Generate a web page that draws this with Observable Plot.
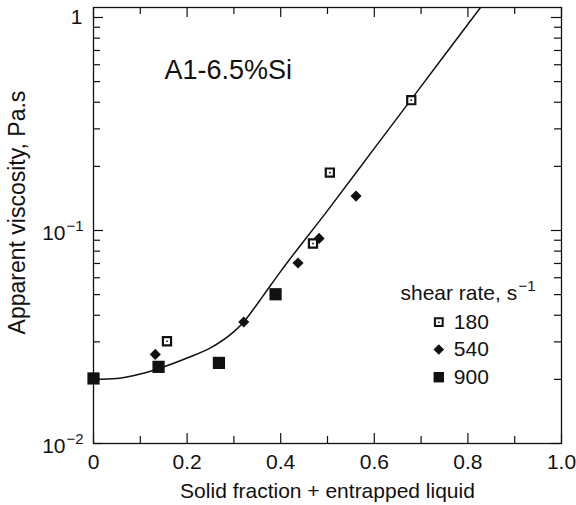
<!DOCTYPE html>
<html>
<head>
<meta charset="utf-8">
<script src="https://cdn.jsdelivr.net/npm/d3@7"></script>
<script src="https://cdn.jsdelivr.net/npm/@observablehq/plot@0.6"></script>
<style>
  html, body { margin: 0; padding: 0; background: #fff; }
  #chart svg { display: block; }
</style>
</head>
<body>
<div id="chart"></div>
<script>
// ---- data ----
const series = ["180", "540", "900"];

const s180X = [0.157, 0.469, 0.505, 0.679];
const s180Y = [0.0302, 0.0869, 0.187, 0.409];

const s540X = [0.132, 0.321, 0.437, 0.482, 0.561];
const s540Y = [0.0262, 0.0372, 0.0704, 0.0918, 0.145];

const s900X = [0.0, 0.139, 0.268, 0.389];
const s900Y = [0.0202, 0.0229, 0.0239, 0.0502];

// fitted curve drawn in the figure
const curveX = [0, 0.05, 0.1, 0.14, 0.2, 0.25, 0.3, 0.32, 0.34, 0.36, 0.4, 0.5, 0.6, 0.7, 0.8, 0.85];
const curveY = [0.0200, 0.0202, 0.0212, 0.0225, 0.0252, 0.0281, 0.0335, 0.0370, 0.0422, 0.0485, 0.0643, 0.124, 0.243, 0.475, 0.93, 1.30];

// axes
const xDomain = [0, 1];
const yDomain = [0.01, 1.114];
const xMajorTicks = [0, 0.2, 0.4, 0.6, 0.8, 1.0];
const xMinorTicks = [0.1, 0.3, 0.5, 0.7, 0.9];
const xTickLabels = ["0", "0.2", "0.4", "0.6", "0.8", "1.0"];
const yMajorTicks = [0.01, 0.1, 1];
const yMinorTicks = [0.02, 0.03, 0.04, 0.05, 0.06, 0.07, 0.08, 0.09, 0.2, 0.3, 0.4, 0.5, 0.6, 0.7, 0.8, 0.9];
const yTickBase = ["10", "10", "1"];
const yTickExp = ["\u22122", "\u22121", ""];

const xTitle = "Solid fraction + entrapped liquid";
const yTitle = "Apparent viscosity, Pa.s";
const annotation = "A1-6.5%Si";
const legendTitle = "shear rate, s";
const legendTitleExp = "\u22121";

// ---- build tables ----
const zip = (xs, ys) => xs.map((x, i) => ({x, y: ys[i]}));
const d180 = zip(s180X, s180Y);
const d540 = zip(s540X, s540Y);
const d900 = zip(s900X, s900Y);
const curve = zip(curveX, curveY);
const yLabels = yMajorTicks.map((v, i) => ({v, base: yTickBase[i], exp: yTickExp[i]}));
const yLabelsExp = yLabels.filter(d => d.exp);
const yLabelsPlain = yLabels.filter(d => !d.exp);

const font = "'Liberation Sans', Arial, Helvetica, sans-serif";
const FS = 21;
const SUP = 15;
const black = "#111";

// legend marks
const legendRowDy = [314.7, 342, 369.7];
const legendSymDx = 345.3, legendTextDx = 360.3;
const legendMarks = [];
series.forEach((s, i) => {
  const dy = legendRowDy[i];
  if (s === "180") {
    legendMarks.push(Plot.dot([s], {frameAnchor: "top-left", dx: legendSymDx, dy, symbol: "square", r: 4.4, stroke: black, strokeWidth: 2, fill: "white"}));
    legendMarks.push(Plot.dot([s], {frameAnchor: "top-left", dx: legendSymDx, dy, symbol: "square", r: 0.9, fill: black}));
  } else if (s === "540") {
    legendMarks.push(Plot.dot([s], {frameAnchor: "top-left", dx: legendSymDx, dy, symbol: "diamond2", r: 4.8, fill: black}));
  } else {
    legendMarks.push(Plot.dot([s], {frameAnchor: "top-left", dx: legendSymDx, dy, symbol: "square", r: 5.9, fill: black}));
  }
  legendMarks.push(Plot.text([s], {frameAnchor: "top-left", dx: legendTextDx, dy, text: d => d, textAnchor: "start", lineAnchor: "middle", fontSize: FS, fill: black}));
});

const chart = Plot.plot({
  width: 576,
  height: 505,
  marginLeft: 93,
  marginRight: 15,
  marginTop: 7,
  marginBottom: 62,
  style: {fontFamily: font, background: "white", color: black},
  x: {domain: xDomain, axis: null},
  y: {type: "log", domain: yDomain, axis: null},
  marks: [
    // x tick labels
    Plot.axisX({ticks: xMajorTicks, tickSize: 0, tickPadding: 11, tickFormat: d => xTickLabels[xMajorTicks.indexOf(d)], fontSize: FS, label: null}),
    // y tick labels (base + superscript exponent)
    Plot.text(yLabelsPlain, {x: xDomain[0], y: "v", text: "base", textAnchor: "end", lineAnchor: "middle", dx: -11, fontSize: FS, fill: black}),
    Plot.text(yLabelsExp, {x: xDomain[0], y: "v", text: "base", textAnchor: "end", lineAnchor: "middle", dx: -28, dy: 3, fontSize: FS, fill: black}),
    Plot.text(yLabelsExp, {x: xDomain[0], y: "v", text: "exp", textAnchor: "end", lineAnchor: "middle", dx: -10, dy: -4, fontSize: SUP, fill: black}),
    // inward ticks: bottom & top
    Plot.ruleX(xMajorTicks, {x: d => d, y1: yDomain[0], y2: yDomain[0], insetBottom: 10, stroke: black, strokeWidth: 1.2}),
    Plot.ruleX(xMinorTicks, {x: d => d, y1: yDomain[0], y2: yDomain[0], insetBottom: 7, stroke: black, strokeWidth: 1.2}),
    Plot.ruleX(xMajorTicks, {x: d => d, y1: yDomain[1], y2: yDomain[1], insetBottom: -10, stroke: black, strokeWidth: 1.2}),
    Plot.ruleX(xMinorTicks, {x: d => d, y1: yDomain[1], y2: yDomain[1], insetBottom: -7, stroke: black, strokeWidth: 1.2}),
    // inward ticks: left & right
    Plot.ruleY(yMajorTicks, {y: d => d, x1: xDomain[0], x2: xDomain[0], insetRight: -10, stroke: black, strokeWidth: 1.2}),
    Plot.ruleY(yMinorTicks, {y: d => d, x1: xDomain[0], x2: xDomain[0], insetRight: -7, stroke: black, strokeWidth: 1.2}),
    Plot.ruleY(yMajorTicks, {y: d => d, x1: xDomain[1], x2: xDomain[1], insetRight: 10, stroke: black, strokeWidth: 1.2}),
    Plot.ruleY(yMinorTicks, {y: d => d, x1: xDomain[1], x2: xDomain[1], insetRight: 7, stroke: black, strokeWidth: 1.2}),
    Plot.frame({stroke: black, strokeWidth: 1.3}),
    // axis titles
    Plot.text([xTitle], {frameAnchor: "bottom", dy: 48, text: d => d, fontSize: FS, fill: black, textAnchor: "middle", lineAnchor: "middle"}),
    Plot.text([yTitle], {frameAnchor: "left", dx: -76, dy: -13, rotate: -90, text: d => d, fontSize: 23, fill: black, textAnchor: "middle", lineAnchor: "middle"}),
    // annotation
    Plot.text([annotation], {frameAnchor: "top-left", dx: 71, dy: 63, text: d => d, fontSize: 27, textAnchor: "start", lineAnchor: "middle", fill: black}),
    // fitted curve
    Plot.line(curve, {x: "x", y: "y", curve: "monotone-x", stroke: black, strokeWidth: 1.5, clip: true}),
    // data
    Plot.dot(d900, {x: "x", y: "y", symbol: "square", r: 6.9, fill: black}),
    Plot.dot(d540, {x: "x", y: "y", symbol: "diamond2", r: 5.0, fill: black}),
    Plot.dot(d180, {x: "x", y: "y", symbol: "square", r: 4.6, stroke: black, strokeWidth: 2.2, fill: "white"}),
    Plot.dot(d180, {x: "x", y: "y", symbol: "square", r: 0.9, fill: black}),
    // legend
    Plot.text([legendTitle], {frameAnchor: "top-left", dx: 307, dy: 286, text: d => d, textAnchor: "start", lineAnchor: "middle", fontSize: FS, fill: black}),
    Plot.text([legendTitleExp], {frameAnchor: "top-left", dx: 425, dy: 279, text: d => d, textAnchor: "start", lineAnchor: "middle", fontSize: SUP, fill: black}),
    ...legendMarks
  ]
});

document.getElementById("chart").appendChild(chart);
</script>
</body>
</html>
